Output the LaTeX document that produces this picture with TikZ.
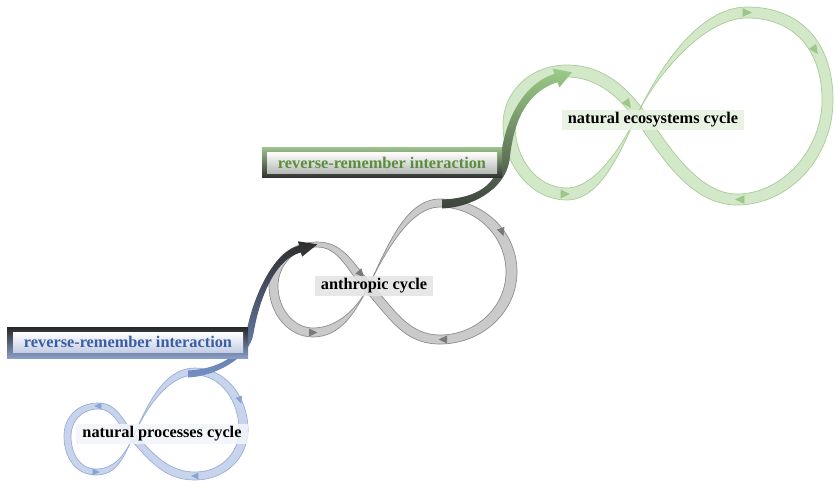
\documentclass[tikz,border=0pt]{standalone}
\usepackage{fontspec}
\setmainfont{Liberation Serif}

\definecolor{bandblue}{HTML}{C7D4EC}
\definecolor{edgeblue}{HTML}{98AFD8}
\definecolor{tipblue}{HTML}{8AA3CF}
\definecolor{bandgray}{HTML}{CACACA}
\definecolor{edgegray}{HTML}{8E8E8E}
\definecolor{tipgray}{HTML}{7A7A7A}
\definecolor{bandgreen}{HTML}{D3E7C9}
\definecolor{edgegreen}{HTML}{A6CE95}
\definecolor{tipgreen}{HTML}{9DC689}
\definecolor{textblue}{HTML}{3A5DA5}
\definecolor{textgreen}{HTML}{5A8E3C}
\definecolor{linkblue}{HTML}{7690C6}
\definecolor{linkmid}{HTML}{5B6F96}
\definecolor{linkdark}{HTML}{2E2E2E}
\definecolor{linkgreen}{HTML}{9CCB88}
\definecolor{linkgreenmid}{HTML}{78A866}
\definecolor{linkgreendark}{HTML}{3B433B}

% one lobe of a twisted ribbon: #1 fill, #2 edge colour, #3 outer edge, #4 inner edge
\newcommand\ribbonlobe[4]{%
  \fill[#1, even odd rule] #3 -- cycle #4 -- cycle;
  \draw[#2, line width=0.7pt] #3;
  \draw[#2, line width=0.7pt] #4;}

\tikzset{
  flowtip/.pic={\fill (4.5,0) -- (-4,4) -- (-4,-4) -- cycle;},
  lab/.style={font=\fontsize{16.3}{18}\selectfont\bfseries, inner xsep=6pt,
    inner ysep=2.5pt, text=black, fill opacity=0.85, text opacity=1},
  frame/.style={minimum width=#1, inner sep=0pt},
  boxtext/.style={font=\fontsize{16.3}{18}\selectfont\bfseries, inner sep=0pt,
    minimum width=230pt, minimum height=20pt}
}

\begin{document}
\begin{tikzpicture}[x=1pt,y=-1pt]
\useasboundingbox (0,0) rectangle (835,483);

% ---- natural processes cycle (blue ribbon)
\ribbonlobe{bandblue}{edgeblue}
 {(135.5,434.5) .. controls +(-14,-14) and +(20,0) .. (98,403) .. controls +(-20,0) and +(0,-19) .. (64,436) .. controls +(0,22) and +(-20,0) .. (96,475) .. controls +(20,0) and +(-10,22) .. (133,437)}
 {(130.5,439.5) .. controls +(-12,-13) and +(17,0) .. (98,409) .. controls +(-16,0) and +(0,-15) .. (71,436) .. controls +(0,18) and +(-16,0) .. (96,469) .. controls +(17,0) and +(-9,20) .. (133,437)}
\ribbonlobe{bandblue}{edgeblue}
 {(130.5,439.5) .. controls +(20,22) and +(-30,0) .. (195,480) .. controls +(30,0) and +(0,28) .. (248,430) .. controls +(0,-34) and +(30,0) .. (195,368) .. controls +(-30,0) and +(16,-36) .. (133,437)}
 {(135.5,434.5) .. controls +(18,20) and +(-26,0) .. (195,472) .. controls +(25,0) and +(0,24) .. (239,430) .. controls +(0,-29) and +(26,0) .. (195,375) .. controls +(-26,0) and +(14,-31) .. (133,437)}

% ---- anthropic cycle (gray ribbon)
\ribbonlobe{bandgray}{edgegray}
 {(371.4,284) .. controls +(-20,-22.5) and +(26,0) .. (317,242) .. controls +(-26,0) and +(0,-25) .. (269,286) .. controls +(0,27) and +(-25,0) .. (313,337) .. controls +(28,0) and +(-12,24) .. (368,287)}
 {(364.6,290) .. controls +(-17,-19) and +(22,0) .. (317,247) .. controls +(-22,0) and +(0,-21) .. (278,286) .. controls +(0,22) and +(-20,0) .. (313,328) .. controls +(24,0) and +(-11,22) .. (368,287)}
\ribbonlobe{bandgray}{edgegray}
 {(364.6,290) .. controls +(26,29) and +(-36,0) .. (440,344) .. controls +(42,0) and +(0,40) .. (517,272) .. controls +(0,-42) and +(42,0) .. (440,199) .. controls +(-36,0) and +(18,-36) .. (368,287)}
 {(371.4,284) .. controls +(23,26) and +(-31,0) .. (440,335) .. controls +(36,0) and +(0,35) .. (506,272) .. controls +(0,-36) and +(36,0) .. (440,207) .. controls +(-31,0) and +(16,-32) .. (368,287)}

% ---- natural ecosystems cycle (green ribbon)
\ribbonlobe{bandgreen}{edgegreen}
 {(642.8,109.4) .. controls +(-20,-27) and +(32,0) .. (567,65) .. controls +(-36,0) and +(0,-34) .. (503,125) .. controls +(0,40) and +(-36,0) .. (567,200) .. controls +(36,0) and +(-14,30) .. (638,113)}
 {(633.2,116.6) .. controls +(-17,-23) and +(27,0) .. (567,77) .. controls +(-30,0) and +(0,-28) .. (515,125) .. controls +(0,34) and +(-30,0) .. (567,188) .. controls +(30,0) and +(-12,26) .. (638,113)}
\ribbonlobe{bandgreen}{edgegreen}
 {(633.2,116.6) .. controls +(24,32) and +(-50,0) .. (737,205) .. controls +(52,0) and +(0,58) .. (833,100) .. controls +(0,-56) and +(55,0) .. (747,7) .. controls +(-50,0) and +(19,-40) .. (638,113)}
 {(642.8,109.4) .. controls +(20,27) and +(-42,0) .. (737,194) .. controls +(45,0) and +(0,50) .. (822,100) .. controls +(0,-49) and +(48,0) .. (747,18) .. controls +(-44,0) and +(17,-35) .. (638,113)}

% ---- flow direction marks on the ribbons
\pic[tipblue, rotate=180, scale=0.85] at (98,406) {flowtip};
\pic[tipblue, rotate=0, scale=0.85] at (96,472) {flowtip};
\pic[tipblue, rotate=-70, scale=0.85] at (240,400) {flowtip};
\pic[tipblue, rotate=180, scale=0.85] at (195,476) {flowtip};

\pic[tipgray, rotate=-50] at (361,274) {flowtip};
\pic[tipgray, rotate=0] at (313,332.5) {flowtip};
\pic[tipgray, rotate=-70] at (502,232) {flowtip};
\pic[tipgray, rotate=180] at (443,339.5) {flowtip};

\pic[tipgreen, rotate=0, scale=1.1] at (747,12.5) {flowtip};
\pic[tipgreen, rotate=-55, scale=1.1] at (815,50) {flowtip};
\pic[tipgreen, rotate=180, scale=1.1] at (740,199.5) {flowtip};
\pic[tipgreen, rotate=0, scale=1.1] at (565,194) {flowtip};
\pic[tipgreen, rotate=-53, scale=1.1] at (628,104) {flowtip};

% ---- connector: natural processes -> anthropic
\path[top color=linkdark, middle color=linkmid, bottom color=linkblue]
  (188,370.5) .. controls (214,369.5) and (242.5,357.4) .. (246.5,332.4)
  .. controls (250.5,307.4) and (269.1,253.6) .. (299.1,245.6)
  -- (297.9,241.3) -- (317.4,244.3) -- (302.1,256.7) -- (300.9,252.4)
  .. controls (270.9,260.4) and (257.5,308.6) .. (253.5,333.6)
  .. controls (249.5,358.6) and (214,376.5) .. (188,377.5) -- cycle;

% ---- connector: anthropic -> natural ecosystems
\path[top color=linkgreen, middle color=linkgreenmid, bottom color=linkgreendark]
  (442,199.5) .. controls (470,198.5) and (495.5,189.4) .. (500.5,159.4)
  .. controls (504.5,119.4) and (523.5,83.8) .. (554.5,73.8)
  -- (552.6,68.6) -- (572,72.2) -- (559.4,87.4) -- (557.5,82.2)
  .. controls (526.5,92.2) and (513.5,120.6) .. (509.5,160.6)
  .. controls (504.5,190.6) and (470,207.5) .. (442,208.5) -- cycle;

% ---- interaction boxes
\node[frame=241pt, minimum height=31pt, top color=black!85, bottom color=textblue!60!white]
  (bframe) at (127.5,342.5) {};
\node[boxtext, top color=white, bottom color=textblue!30!white, text=textblue]
  (bbox) at (128,342) {reverse-remember interaction};

\node[frame=240pt, minimum height=30pt, top color=edgegreen!95!black, bottom color=black!80]
  (gframe) at (382,162) {};
\node[boxtext, minimum height=21pt, top color=white, bottom color=textgreen!15!black!30!white, text=textgreen]
  (gbox) at (382,162.5) {reverse-remember interaction};

% ---- cycle labels
\node[lab, fill=textblue!6!white] (np) at (162,434) {natural processes cycle};
\node[lab, fill=black!11] (an) at (374,286) {anthropic cycle};
\node[lab, fill=bandgreen!60!white] (ne) at (653,120) {natural ecosystems cycle};

\end{tikzpicture}
\end{document}
